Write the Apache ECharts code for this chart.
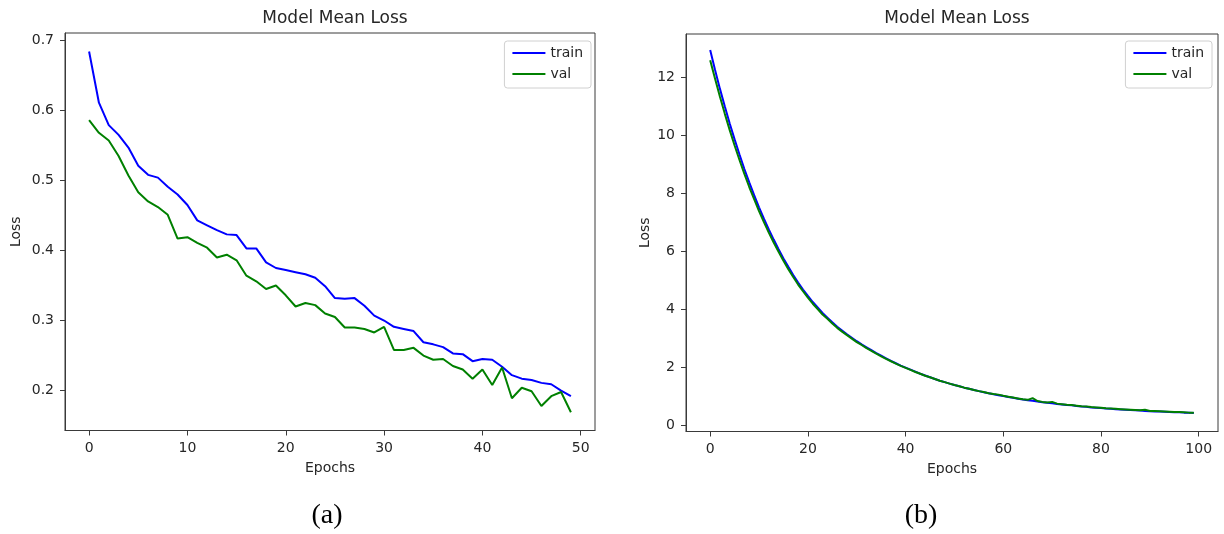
<!DOCTYPE html>
<html>
<head>
<meta charset="utf-8">
<script src="https://cdn.jsdelivr.net/npm/echarts@6/dist/echarts.min.js"></script>
<style>
html,body{margin:0;padding:0;background:#fff;}
#chart{width:1224px;height:534px;}
</style>
</head>
<body>
<div id="chart"></div>
<script>
// ---- Data ----
const trainA = [0.684,0.611,0.579,0.565,0.547,0.521,0.508,0.504,0.491,0.480,
  0.465,0.443,0.436,0.429,0.423,0.422,0.403,0.403,0.383,0.375,
  0.372,0.369,0.366,0.361,0.349,0.332,0.331,0.332,0.321,0.307,
  0.300,0.291,0.288,0.285,0.269,0.266,0.262,0.253,0.252,0.242,
  0.245,0.244,0.234,0.222,0.217,0.215,0.211,0.209,0.200,0.192];
const valA = [0.586,0.568,0.557,0.535,0.507,0.483,0.470,0.462,0.451,0.417,
  0.419,0.411,0.404,0.390,0.394,0.386,0.364,0.356,0.345,0.350,
  0.336,0.320,0.325,0.322,0.310,0.305,0.290,0.290,0.288,0.283,
  0.291,0.258,0.258,0.261,0.250,0.244,0.245,0.235,0.230,0.217,
  0.230,0.208,0.233,0.189,0.204,0.199,0.178,0.192,0.198,0.169];
const trainB = [12.93,12.24,11.59,10.98,10.40,9.85,9.33,8.83,8.37,7.93,
  7.51,7.12,6.75,6.40,6.07,5.75,5.46,5.18,4.92,4.68,
  4.46,4.25,4.06,3.87,3.71,3.55,3.40,3.27,3.14,3.02,
  2.90,2.79,2.69,2.59,2.49,2.40,2.31,2.22,2.14,2.06,
  1.99,1.92,1.85,1.78,1.72,1.66,1.60,1.54,1.49,1.44,
  1.39,1.35,1.30,1.26,1.22,1.18,1.14,1.11,1.07,1.04,
  1.01,0.98,0.95,0.92,0.89,0.87,0.85,0.82,0.80,0.78,
  0.76,0.74,0.72,0.70,0.69,0.67,0.65,0.64,0.62,0.61,
  0.60,0.58,0.57,0.56,0.55,0.54,0.53,0.52,0.51,0.50,
  0.49,0.48,0.48,0.47,0.46,0.45,0.45,0.44,0.44,0.43];
const valB = [12.58,11.94,11.32,10.73,10.17,9.64,9.14,8.66,8.21,7.79,
  7.38,7.00,6.64,6.30,5.98,5.67,5.38,5.11,4.85,4.62,
  4.40,4.19,4.01,3.82,3.67,3.51,3.36,3.23,3.11,2.99,
  2.87,2.77,2.66,2.57,2.47,2.38,2.29,2.21,2.13,2.05,
  1.98,1.91,1.84,1.78,1.71,1.66,1.60,1.54,1.49,1.44,
  1.39,1.35,1.30,1.26,1.22,1.18,1.15,1.11,1.08,1.06,
  1.02,0.99,0.96,0.93,0.90,0.88,0.94,0.84,0.81,0.79,
  0.81,0.75,0.73,0.71,0.70,0.68,0.66,0.65,0.63,0.62,
  0.61,0.59,0.58,0.57,0.56,0.55,0.54,0.53,0.52,0.54,
  0.50,0.50,0.49,0.48,0.47,0.46,0.46,0.45,0.44,0.44];
const xTicksA = [0,10,20,30,40,50];
const yTicksA = [0.2,0.3,0.4,0.5,0.6,0.7];
const xTicksB = [0,20,40,60,80,100];
const yTicksB = [0,2,4,6,8,10,12];
const titleText = 'Model Mean Loss';
const xName = 'Epochs';
const yName = 'Loss';
const captions = ['(a)','(b)'];

// ---- Chart ----
const FONT = 'DejaVu Sans';
const TXT = '#262626';
const FRAME = '#3a3a3a';
const pairs = arr => arr.map((v,i)=>[i,v]);

function xAxis(gridIndex, min, max, ticks){
  return {
    type:'value', gridIndex, min, max,
    name:xName, nameLocation:'middle', nameGap:31,
    nameTextStyle:{fontFamily:FONT,fontSize:14,color:TXT},
    axisLine:{show:true,onZero:false,lineStyle:{color:FRAME,width:1}},
    axisTick:{show:true,inside:false,length:5,customValues:ticks,lineStyle:{color:FRAME,width:1}},
    axisLabel:{show:true,customValues:ticks,margin:11,fontFamily:FONT,fontSize:14,color:TXT,
      formatter:v=>String(Math.round(v))},
    splitLine:{show:false}
  };
}
function yAxis(gridIndex, min, max, ticks, dec, gap){
  return {
    type:'value', gridIndex, min, max,
    name:yName, nameLocation:'middle', nameGap:gap, nameRotate:90,
    nameTextStyle:{fontFamily:FONT,fontSize:14,color:TXT},
    axisLine:{show:true,onZero:false,lineStyle:{color:FRAME,width:1}},
    axisTick:{show:true,inside:false,length:5,customValues:ticks,lineStyle:{color:FRAME,width:1}},
    axisLabel:{show:true,customValues:ticks,margin:11,fontFamily:FONT,fontSize:14,color:TXT,
      formatter:v=>v.toFixed(dec)},
    splitLine:{show:false}
  };
}
function legend(right){
  return {
    orient:'vertical', right:right, top:41,
    data:[{name:'train',icon:'rect'},{name:'val',icon:'rect'}],
    itemWidth:33, itemHeight:2, itemGap:5,
    padding:[4,8,6,8],
    borderColor:'#d0d0d0', borderWidth:1, borderRadius:3,
    backgroundColor:'#ffffff',
    textStyle:{fontFamily:FONT,fontSize:14,color:TXT,lineHeight:16},
    selectedMode:false
  };
}
function series(name, data, color, xi){
  return {
    name, type:'line', xAxisIndex:xi, yAxisIndex:xi, data,
    symbol:'none', showSymbol:false, animation:false,
    lineStyle:{color, width:2}, itemStyle:{color}
  };
}

const chart = echarts.init(document.getElementById('chart'), null, {renderer:'canvas'});
chart.setOption({
  animation:false,
  backgroundColor:'#ffffff',
  title:[
    {text:titleText,left:330,top:5,textAlign:'center',textStyle:{fontFamily:FONT,fontSize:17,fontWeight:'normal',color:TXT}},
    {text:titleText,left:952,top:5,textAlign:'center',textStyle:{fontFamily:FONT,fontSize:17,fontWeight:'normal',color:TXT}},
    {text:captions[0],left:322,top:497,textAlign:'center',textStyle:{fontFamily:'Liberation Serif',fontSize:28,fontWeight:'normal',color:'#000'}},
    {text:captions[1],left:916,top:497,textAlign:'center',textStyle:{fontFamily:'Liberation Serif',fontSize:28,fontWeight:'normal',color:'#000'}}
  ],
  legend:[legend(1224-591), legend(1224-1212)],
  grid:[
    {left:65,top:33,width:530,height:397.5,show:true,borderColor:FRAME,borderWidth:1,backgroundColor:'#fff',containLabel:false},
    {left:686,top:34,width:532,height:397.5,show:true,borderColor:FRAME,borderWidth:1,backgroundColor:'#fff',containLabel:false}
  ],
  xAxis:[xAxis(0,-2.45,51.45,xTicksA), xAxis(1,-4.95,103.95,xTicksB)],
  yAxis:[yAxis(0,0.143,0.7105,yTicksA,1,42), yAxis(1,-0.21,13.48,yTicksB,0,34)],
  series:[
    series('train',pairs(trainA),'#0000ff',0),
    series('val',pairs(valA),'#008000',0),
    series('train',pairs(trainB),'#0000ff',1),
    series('val',pairs(valB),'#008000',1)
  ]
});
</script>
</body>
</html>
